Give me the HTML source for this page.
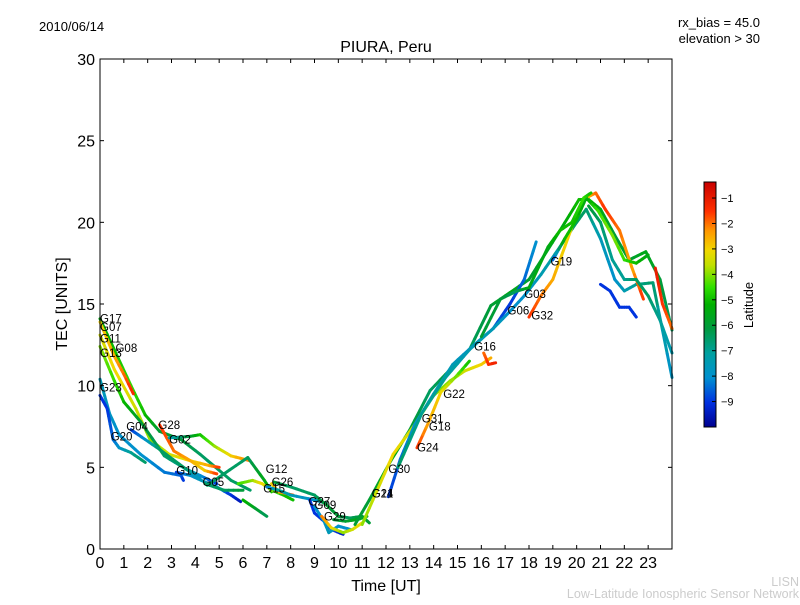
<!DOCTYPE html>
<html><head><meta charset="utf-8"><style>
body{margin:0;background:#fff;}
svg text{font-family:"Liberation Sans","DejaVu Sans",sans-serif;}
</style></head><body>
<svg id="chart" width="800" height="600" viewBox="0 0 800 600" xmlns="http://www.w3.org/2000/svg">
<defs>
<linearGradient id="cbgrad" x1="0" y1="1" x2="0" y2="0">
<stop offset="0" stop-color="#00008f"/>
<stop offset="0.1" stop-color="#0030e0"/>
<stop offset="0.2" stop-color="#0090d0"/>
<stop offset="0.3" stop-color="#00a0a0"/>
<stop offset="0.4" stop-color="#009a40"/>
<stop offset="0.5" stop-color="#00b000"/>
<stop offset="0.57" stop-color="#30e000"/>
<stop offset="0.66" stop-color="#c0e000"/>
<stop offset="0.72" stop-color="#f0d800"/>
<stop offset="0.8" stop-color="#ff9800"/>
<stop offset="0.88" stop-color="#ff3000"/>
<stop offset="1" stop-color="#c80000"/>
</linearGradient>
</defs>
<text x="39" y="31" font-size="13">2010/06/14</text>
<text x="760" y="27" font-size="13" text-anchor="end">rx_bias = 45.0</text>
<text x="760" y="43" font-size="13" text-anchor="end">elevation &gt; 30</text>
<text x="386" y="52" font-size="16" text-anchor="middle">PIURA, Peru</text>
<g id="tracks"></g>
<g id="labels"></g>
<rect x="100" y="59" width="572" height="490" fill="none" stroke="#000" stroke-width="1"/>
<g id="xaxis"></g>
<g id="yaxis"></g>
<text x="386" y="591" font-size="16" text-anchor="middle">Time [UT]</text>
<text transform="translate(67,304) rotate(-90)" font-size="16" text-anchor="middle">TEC [UNITS]</text>
<rect x="704" y="182" width="12" height="245" fill="url(#cbgrad)" stroke="#000" stroke-width="1"/>
<g id="cbaxis"></g>
<text transform="translate(753,305) rotate(-90)" font-size="13" text-anchor="middle">Latitude</text>
<text x="799" y="586" font-size="12.5" fill="#ccc" text-anchor="end">LISN</text>
<text x="799" y="598" font-size="12.5" fill="#ccc" text-anchor="end">Low-Latitude Ionospheric Sensor Network</text>
</svg>
<script>
const xTicks=[0,1,2,3,4,5,6,7,8,9,10,11,12,13,14,15,16,17,18,19,20,21,22,23];
const yTicks=[0,5,10,15,20,25,30];
const cbTicks=[-1,-2,-3,-4,-5,-6,-7,-8,-9];
const trackNames=["G17","G11","G07","G28","G02","G13","G23","G20","G04","G10","G05","G05b","G12b","G14b","G12","G26","G15","G27","G09","G29","G29b","G21","G14","G16","G24","G30","G06","G32","G19","G03","G18","G22","G31"];
const trackTimes=[
[0,0.6,1.3,1.9,2.5,3.4,4.2,5.5,6.3],
[0,0.6,1.5,2.1,2.9,3.8,4.6,5],
[0,0.6,1,1.4],
[2.5,3.1,3.8,4.4,4.9],
[2.9,3.8,4.2,4.8,5.5,6.3],
[0,0.6,1,1.7,2.7,3.6,4.2],
[0,0.4,0.8,1.7,2.7,3.4,3.5],
[0,0.3,0.55,0.8,1.3,1.9],
[1.3,1.9,2.5,3.6,4.2,4.9],
[3.2,3.8,4.4,4.9,5.5,5.9],
[4.4,5.2,6.0],
[4.5,5.2,6.2,6.9,7.2],
[5.8,6.4,6.8,7.2,7.7,8.1],
[6.0,7.0],
[7.2,7.5,8.1],
[7,7.5,8,9,9.5],
[7.3,8,9,9.5,10,10.5,11,11.3],
[8.8,9.0,9.4,9.7,10.2],
[9,9.4,9.6,10,10.5],
[9.3,9.7,10.2,10.6,11],
[9.8,10.3,10.8,11.2],
[10.7,11.3,12.2,13,13.85,14.7,15.5,16.4,17.2,18,19.3,20.1,20.5,21,21.6,22.2,22.9,23.5,24],
[11,11.6,12.3,13.2,14,14.7,15.3,16,16.4],
[16.1,16.3,16.6],
[13.3,13.8,14.3,14.9,15.5],
[12.1,12.6,13.2,14,14.8,15.7,16.5,17.2,17.8,18.3],
[12.5,13.5,14.5,15.5,16.5,17.3,17.8,18.5,19.3,20,20.4,21,21.6,22,22.5,23.2,24],
[18,18.5,19,19.5,20,20.4,20.8,21.2,21.8,22.3,22.8],
[19,19.5,20,20.4,20.9,21.5,22,22.5,23],
[16,16.8,17.5,18,18.8,19.3,19.8,20.3,20.6],
[20.5,21,21.5,22,22.5,23,23.5,24],
[21,21.4,21.8,22.2,22.5],
[23.3,23.6,24]
];
const trackTec=[
[14.1,12.2,10,8.2,7.2,6.7,5.8,4.2,3.6],
[13.1,11,8.6,6.7,5.8,5.4,5.1,5],
[13.9,11.8,10.7,9.5],
[7.6,6,5.4,4.8,4.6],
[6.8,6.9,7.0,6.3,5.7,5.4],
[12.4,10.3,9,7.8,5.7,4.9,4.3],
[10.4,8.3,7,5.8,4.7,4.5,4.2],
[9.4,8.6,6.7,6.2,5.9,5.3],
[7.3,6.7,6.1,4.9,4.5,4],
[4.7,4.5,4.1,3.8,3.3,2.9],
[4,3.6,3.6],
[3.9,4.6,5.6,4.2,3.5],
[4,4.2,4,3.6,3.3,3],
[3.0,2.0],
[4,3.5,3.3],
[3.8,3.6,3.3,3.0,2.8],
[4.1,3.8,3.3,2.7,2,1.9,2,1.6],
[3.0,2.2,1.7,1.2,0.9],
[2.6,1.7,1.0,1.4,1.2],
[2,1.3,1.0,1.2,1.6],
[1.8,1.7,1.8,2.0],
[1.5,3.0,5.4,7.3,9.7,11,12.2,14.9,15.7,16.5,19.5,21.4,21.4,20.8,19.2,17.7,18.2,16.5,13.4],
[1.5,3.5,5.8,7.6,9.4,10.3,10.9,11.3,11.7],
[12,11.3,11.4],
[6.2,7.8,9.6,10.5,11.5],
[3.2,5.5,7.6,9.5,11.3,12.5,13.5,15,16.5,18.8],
[5,8.3,10.5,12.2,13.5,14.7,15.5,16.8,18.5,20,20.8,19,16.5,15.8,16.2,16.3,10.5],
[14.2,15.5,16.5,18.5,20.5,21.5,21.8,20.8,19.5,17.3,15.3],
[17.7,19,20.2,21.5,20.7,19.2,17.7,17.5,18],
[13,15.3,15.8,16,18.5,19.5,20,21.5,21.8],
[21,20,17.7,16.5,16.5,15.5,14,12],
[16.2,15.8,14.8,14.8,14.2],
[17.2,15,13.5]
];
const trackLat=[
[-5.5,-5,-4.5,-5,-6,-6,-6.5,-6.5,-6.5],
[-3.5,-3,-3.5,-4,-3.5,-3,-2.5,-1.5],
[-3,-2.5,-2,-1.3],
[-1.5,-2,-2.5,-3,-1.5],
[-7.5,-6,-5,-4,-3,-2],
[-4,-4.5,-5,-6,-6.5,-7,-7.5],
[-7.5,-7.8,-8,-8,-8.3,-8.5,-9],
[-9,-9,-8.5,-8,-7,-6.5],
[-9,-8,-6.5,-6.5,-8,-9],
[-9,-8,-7.5,-8,-9,-9.5],
[-6.5,-6.5,-6],
[-6.5,-6.5,-6.5,-5.5,-5],
[-4.5,-4,-3,-4,-5,-5],
[-5,-6.5],
[-3,-2.5,-1.8],
[-8.5,-7,-7.5,-8,-6.5],
[-6,-6.5,-6.5,-6,-6,-6.5,-6,-6],
[-9,-9,-9,-8.5,-9.5],
[-8,-8,-7.5,-8,-8],
[-2,-3,-4,-3.5,-3],
[-6,-6,-5.5,-6],
[-6,-6,-5.5,-6,-6.5,-6,-6.5,-6,-5.5,-6,-5.5,-5,-5,-5.5,-6,-6,-5.5,-6,-6.5],
[-4,-3.5,-3,-3.5,-4,-4,-3.5,-3,-2.5],
[-2,-1.5,-1.2],
[-1.5,-2.5,-3,-4,-5],
[-9,-8.5,-8,-7.5,-7.5,-8,-8.5,-9,-8.5,-8],
[-6.5,-7,-7,-7.5,-7.5,-8,-8,-7.5,-7,-6.5,-6.5,-7.5,-8,-7.5,-7,-6.5,-8],
[-1.5,-2,-2.5,-3,-3,-3,-2,-1.5,-2,-2.5,-1.5],
[-9,-5,-5,-5.5,-4.5,-4,-4.5,-5,-5.5],
[-6,-6,-6.5,-5.5,-5.5,-5,-5,-4.5,-5],
[-6,-6.5,-7,-7,-6.5,-6.5,-7,-7.5],
[-9,-9,-9,-9,-9],
[-1,-1.5,-2]
];
const labelNames=["G17","G07","G11","G13","G08","G23","G20","G04","G28","G02","G10","G05","G12","G26","G15","G27","G09","G29","G21","G14","G30","G24","G18","G31","G22","G16","G06","G03","G32","G19"];
const labelTimes=[0,0,0,0,0.65,0,0.45,1.1,2.45,2.9,3.2,4.3,6.95,7.2,6.85,8.75,9.0,9.4,11.4,11.4,12.1,13.3,13.8,13.5,14.4,15.7,17.1,17.8,18.1,18.9];
const labelTec=[14.1,13.6,12.9,12.0,12.3,9.9,6.9,7.5,7.6,6.7,4.8,4.1,4.9,4.1,3.7,2.9,2.7,2.0,3.4,3.4,4.9,6.2,7.5,8.0,9.5,12.4,14.6,15.6,14.3,17.6];

const X0=100,X1=672,Y0=549,Y1=59;
function xs(t){return X0+t*(X1-X0)/24;}
function ys(v){return Y0-v*(Y0-Y1)/30;}
const CB0=-10,CB1=-0.37,CBT=182,CBB=427;
function cby(l){return CBB-(l-CB0)*(CBB-CBT)/(CB1-CB0);}
const stops=[[0,[0,0,143]],[0.1,[0,48,224]],[0.2,[0,144,208]],[0.3,[0,160,160]],[0.4,[0,154,64]],[0.5,[0,176,0]],[0.57,[48,224,0]],[0.66,[192,224,0]],[0.72,[240,216,0]],[0.8,[255,152,0]],[0.88,[255,48,0]],[1,[200,0,0]]];
function color(l){let f=(l-CB0)/(CB1-CB0);f=Math.max(0,Math.min(1,f));
for(let i=1;i<stops.length;i++){if(f<=stops[i][0]){const a=stops[i-1],b=stops[i];const u=(f-a[0])/(b[0]-a[0]);
const c=a[1].map((v,k)=>Math.round(v+(b[1][k]-v)*u));return `rgb(${c[0]},${c[1]},${c[2]})`;}}return "rgb(200,0,0)";}
const NS="http://www.w3.org/2000/svg";
function mk(tag,attrs,parent){const e=document.createElementNS(NS,tag);for(const k in attrs)e.setAttribute(k,attrs[k]);parent.appendChild(e);return e;}
const tg=document.getElementById("tracks");
trackNames.forEach((n,i)=>{
  const g=mk("g",{},tg);
  
  
  const T=trackTimes[i],V=trackTec[i],L=trackLat[i];
  for(let j=0;j<T.length-1;j++){
    const steps=4;
    for(let s=0;s<steps;s++){
      const u0=s/steps,u1=(s+1)/steps;
      const seg=mk("line",{x1:xs(T[j]+(T[j+1]-T[j])*u0),y1:ys(V[j]+(V[j+1]-V[j])*u0),x2:xs(T[j]+(T[j+1]-T[j])*u1),y2:ys(V[j]+(V[j+1]-V[j])*u1),stroke:color(L[j]+(L[j+1]-L[j])*(u0+u1)/2),"stroke-width":3,"stroke-linecap":"round"},g);
      
      
    }
  }
});
const lg=document.getElementById("labels");
labelNames.forEach((n,i)=>{
  const t=mk("text",{x:xs(labelTimes[i]),y:ys(labelTec[i])+4,"font-size":"11.5"},lg);
  t.textContent=n;
  
  
});
const xg=document.getElementById("xaxis");
xTicks.forEach(v=>{
  const x=xs(v);
  const a=mk("line",{x1:x,y1:Y0,x2:x,y2:Y0-4,stroke:"#000"},xg);
  
  
  const b=mk("line",{x1:x,y1:Y1,x2:x,y2:Y1+4,stroke:"#000"},xg);
  
  
  const t=mk("text",{x:x,y:Y0+19,"font-size":"16","text-anchor":"middle"},xg);
  t.textContent=v;
  
  
});
const yg=document.getElementById("yaxis");
yTicks.forEach(v=>{
  const y=ys(v);
  const a=mk("line",{x1:X0,y1:y,x2:X0+4,y2:y,stroke:"#000"},yg);
  
  
  const b=mk("line",{x1:X1,y1:y,x2:X1-4,y2:y,stroke:"#000"},yg);
  
  
  const t=mk("text",{x:X0-5,y:y+6,"font-size":"16","text-anchor":"end"},yg);
  t.textContent=v;
  
  
});
const cg=document.getElementById("cbaxis");
cbTicks.forEach(v=>{
  const y=cby(v);
  const a=mk("line",{x1:712,y1:y,x2:716,y2:y,stroke:"#000"},cg);
  
  
  const t=mk("text",{x:721,y:y+4,"font-size":"11"},cg);
  t.textContent="\u2212"+Math.abs(v);
  
  
});
</script>
</body></html>
